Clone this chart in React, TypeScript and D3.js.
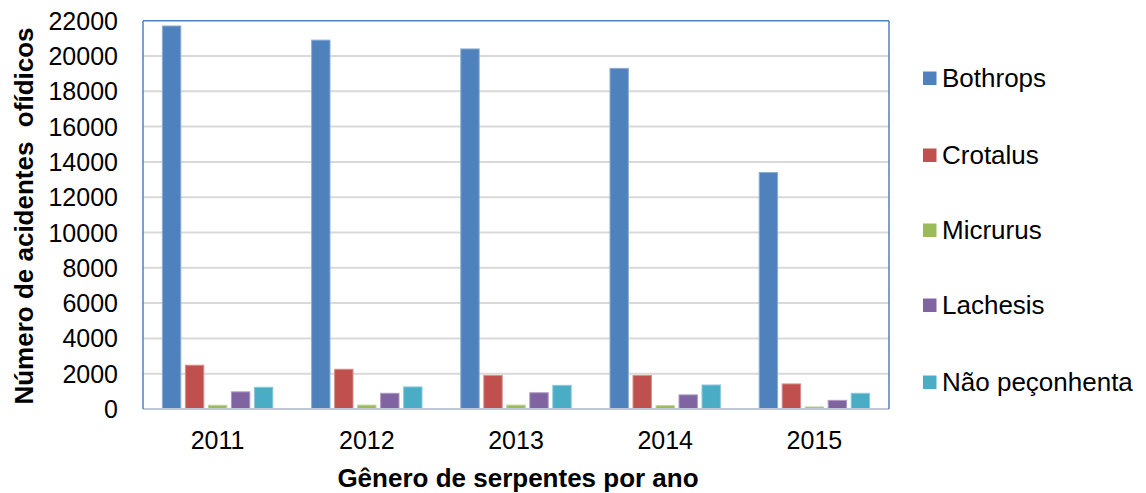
import React from "react";
import * as d3 from "d3";

const years = ["2011", "2012", "2013", "2014", "2015"];
const seriesNames = ["Bothrops", "Crotalus", "Micrurus", "Lachesis", "Não peçonhenta"];
const bothrops = [21700, 20900, 20400, 19300, 13400];
const crotalus = [2480, 2250, 1900, 1900, 1420];
const micrurus = [210, 220, 220, 190, 115];
const lachesis = [970, 890, 920, 800, 490];
const naoPeconhenta = [1230, 1250, 1340, 1360, 890];
const yTicks = [0, 2000, 4000, 6000, 8000, 10000, 12000, 14000, 16000, 18000, 20000, 22000];
const colors = ["#4F81BD", "#C0504D", "#9BBB59", "#8064A2", "#4BACC6"];

const seriesValues = [bothrops, crotalus, micrurus, lachesis, naoPeconhenta];

export default function App() {
  const W = 1146, H = 493;
  const left = 143, right = 889, top = 20.7, bottom = 409;
  const x0 = d3.scaleBand<string>().domain(years).range([left, right]).paddingInner(0).paddingOuter(0);
  const x1 = d3.scaleBand<string>().domain(seriesNames).range([0, x0.bandwidth()]).paddingInner(0.2).paddingOuter(0.843);
  const y = d3.scaleLinear().domain([0, 22000]).range([bottom, top]);
  const font = "'Liberation Sans', Arial, sans-serif";
  const legendY = [78, 155, 230, 305, 382];

  return (
    <svg width={W} height={H} style={{ position: "absolute", left: 0, top: 0 }} fontFamily={font}>
      <rect x={0} y={0} width={W} height={H} fill="#fff" />
      {yTicks.map((t) => (
        <g key={t}>
          {t > 0 && t < 22000 && (
            <line x1={left} x2={right} y1={y(t)} y2={y(t)} stroke="#D9D9D9" strokeWidth={2} />
          )}
          <text x={118} y={y(t)} dy="0.36em" textAnchor="end" fontSize={25} fill="#000">
            {t}
          </text>
        </g>
      ))}
      {years.map((yr, i) => (
        <g key={yr}>
          {seriesNames.map((s, j) => {
            const v = seriesValues[j][i];
            const c = d3.interpolateRgb(colors[j], "#fff")(0.35);
            return (
              <rect
                key={s}
                x={(x0(yr) as number) + (x1(s) as number)}
                y={y(v)}
                width={x1.bandwidth()}
                height={bottom - y(v)}
                fill={colors[j]}
                stroke={c}
                strokeWidth={1}
              />
            );
          })}
          <text x={(x0(yr) as number) + x0.bandwidth() / 2} y={449} textAnchor="middle" fontSize={25} fill="#000">
            {yr}
          </text>
        </g>
      ))}
      <line x1={left} x2={right} y1={bottom} y2={bottom} stroke="#C0C8D4" strokeWidth={2} />
      <line x1={left} x2={right} y1={top} y2={top} stroke="#4F81BD" strokeWidth={1.5} />
      <line x1={left} x2={left} y1={top} y2={bottom} stroke="#4F81BD" strokeWidth={1.5} />
      <line x1={right} x2={right} y1={top} y2={bottom} stroke="#4F81BD" strokeWidth={1.5} />
      <text x={518} y={487} textAnchor="middle" fontSize={26} fontWeight="bold" fill="#000">
        Gênero de serpentes por ano
      </text>
      <text
        transform={`translate(33, 216) rotate(-90)`}
        textAnchor="middle"
        fontSize={26}
        fontWeight="bold"
        fill="#000"
        style={{ whiteSpace: "pre" }}
      >
        {"Número de acidentes  ofídicos"}
      </text>
      {seriesNames.map((s, j) => (
        <g key={s}>
          <rect x={923} y={legendY[j] - 6.5} width={13.5} height={13.5} fill={colors[j]} />
          <text x={942} y={legendY[j] + 8.7} fontSize={26} fill="#000">
            {s}
          </text>
        </g>
      ))}
    </svg>
  );
}
